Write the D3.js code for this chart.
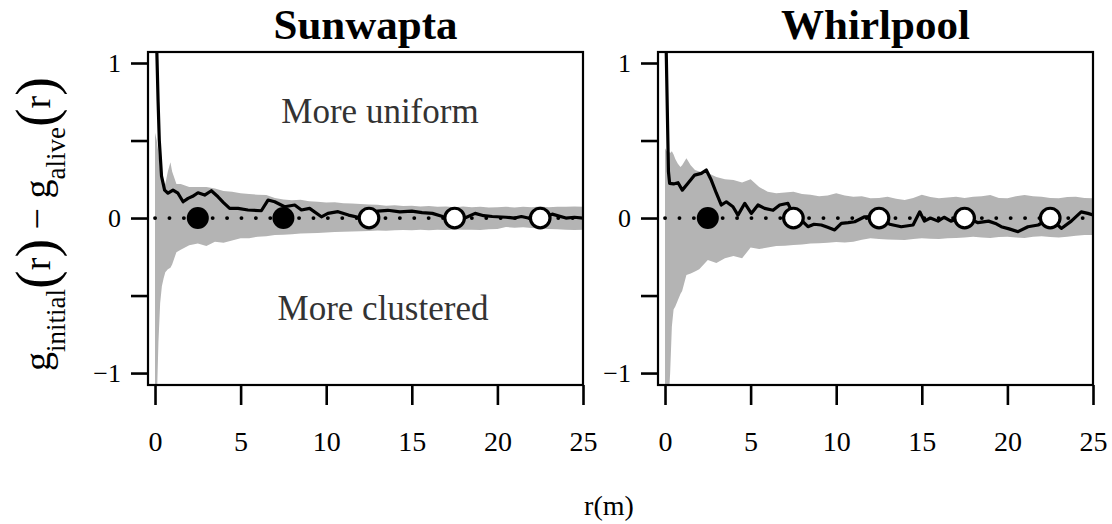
<!DOCTYPE html>
<html>
<head>
<meta charset="utf-8">
<script src="https://cdn.jsdelivr.net/npm/d3@7"></script>
<style>
  body { margin: 0; background: #fff; }
  svg text { font-family: "Liberation Serif", "Times New Roman", serif; fill: #000; }
</style>
</head>
<body>
<div id="chart"></div>
<script>
// panel names and axis ticks
const panelNames = ["Sunwapta", "Whirlpool"]
const xTicks = [0, 5, 10, 15, 20, 25]
const yTicks = [-1, -0.5, 0, 0.5, 1]
const yTickLabels = ["\u22121", "", "0", "", "1"]

// grid used for the simulation envelope (grey band)
const bandR = [0, 0.1, 0.2, 0.3, 0.4, 0.5, 0.6, 0.75, 0.9, 1, 1.25, 1.5, 1.75, 2,
  2.5, 3, 3.5, 4, 4.5, 5, 5.5, 6, 6.5, 7, 7.5, 8, 8.5, 9, 9.5, 10, 10.5, 11, 11.5, 12,
  12.5, 13, 13.5, 14, 14.5, 15, 15.5, 16, 16.5, 17, 17.5, 18, 18.5, 19, 19.5, 20,
  20.5, 21, 21.5, 22, 22.5, 23, 23.5, 24, 24.5, 25]

const sunUpper = [0.55, 0.5, 0.42, 0.3, 0.24, 0.23, 0.22, 0.3, 0.36, 0.3, 0.22, 0.22, 0.21, 0.2,
  0.2, 0.2, 0.19, 0.175, 0.17, 0.16, 0.155, 0.15, 0.148, 0.13, 0.12, 0.115, 0.118, 0.108, 0.105, 0.1,
  0.102, 0.095, 0.093, 0.09, 0.088, 0.085, 0.08, 0.083, 0.078, 0.08, 0.075, 0.078, 0.072, 0.075, 0.07,
  0.074, 0.07, 0.072, 0.068, 0.07, 0.073, 0.068, 0.072, 0.07, 0.074, 0.07, 0.073, 0.072, 0.075, 0.072]
const sunLower = [-1.3, -1.2, -0.8, -0.55, -0.44, -0.39, -0.35, -0.33, -0.32, -0.3, -0.22, -0.205, -0.19, -0.175,
  -0.165, -0.18, -0.153, -0.16, -0.145, -0.131, -0.13, -0.12, -0.118, -0.11, -0.108, -0.105, -0.1, -0.098, -0.097, -0.093,
  -0.09, -0.088, -0.087, -0.085, -0.083, -0.08, -0.082, -0.078, -0.077, -0.079, -0.076, -0.078, -0.075, -0.077, -0.074,
  -0.076, -0.075, -0.077, -0.072, -0.07, -0.058, -0.062, -0.06, -0.065, -0.068, -0.07, -0.072, -0.075, -0.077, -0.075]

const whiUpper = [0.45, 0.43, 0.43, 0.42, 0.43, 0.41, 0.38, 0.35, 0.33, 0.34, 0.385, 0.34, 0.31, 0.3,
  0.29, 0.265, 0.25, 0.245, 0.23, 0.25, 0.2, 0.17, 0.16, 0.165, 0.17, 0.155, 0.15, 0.14, 0.145, 0.16,
  0.145, 0.137, 0.14, 0.127, 0.13, 0.137, 0.125, 0.116, 0.13, 0.15, 0.135, 0.127, 0.133, 0.137, 0.13,
  0.137, 0.14, 0.148, 0.13, 0.127, 0.14, 0.148, 0.14, 0.137, 0.13, 0.127, 0.135, 0.137, 0.13, 0.127]
const whiLower = [-1.3, -1.3, -1.2, -1.0, -0.7, -0.59, -0.57, -0.53, -0.49, -0.47, -0.368, -0.357, -0.345, -0.33,
  -0.27, -0.29, -0.26, -0.245, -0.26, -0.19, -0.2, -0.19, -0.18, -0.178, -0.174, -0.17, -0.165, -0.163, -0.16, -0.155,
  -0.158, -0.153, -0.14, -0.131, -0.135, -0.138, -0.14, -0.142, -0.135, -0.131, -0.133, -0.135, -0.13, -0.128, -0.125,
  -0.12, -0.125, -0.128, -0.122, -0.12, -0.125, -0.128, -0.12, -0.118, -0.122, -0.125, -0.12, -0.115, -0.11, -0.11]

// observed g_initial - g_alive
const sunLineR = [0, 0.1, 0.18, 0.25, 0.38, 0.56, 0.76, 1.05, 1.34, 1.64, 1.93, 2.2, 2.51, 2.9, 3.29, 3.68, 4.0,
  4.36, 4.85, 5.43, 6.21, 6.6, 6.99, 7.57, 8.16, 8.55, 9.03, 9.72, 10.1, 10.69, 11.3, 12.05, 12.5, 13.0, 13.6,
  14.3, 15.0, 15.6, 16.2, 16.8, 17.5, 18.1, 18.7, 19.2, 19.7, 20.5, 21.0, 21.4, 22.0, 22.5, 23.2, 24.0, 24.5, 25]
const sunLineG = [1.5, 1.1, 0.75, 0.5, 0.27, 0.18, 0.16, 0.18, 0.16, 0.105, 0.127, 0.14, 0.163, 0.148, 0.176, 0.137, 0.1,
  0.062, 0.062, 0.052, 0.047, 0.116, 0.105, 0.073, 0.084, 0.052, 0.062, 0.008, 0.03, 0.041, 0.019, 0.0, 0.0, 0.045, 0.05,
  0.04, 0.045, 0.035, 0.03, 0.01, 0.0, 0.0, 0.03, 0.015, 0.01, 0.005, 0.0, 0.01, -0.005, 0.0, 0.025, 0.0, 0.005, 0.0]

const whiLineR = [0, 0.1, 0.2, 0.27, 0.5, 0.76, 1.01, 1.34, 1.73, 2.12, 2.41, 2.7, 3.0, 3.29, 3.58, 3.97, 4.26, 4.66,
  5.04, 5.43, 5.82, 6.31, 6.7, 7.18, 7.5, 7.96, 8.35, 8.7, 9.13, 9.5, 9.91, 10.3, 10.7, 11.08, 11.66, 12.1, 12.5,
  13.12, 13.8, 14.49, 14.88, 15.15, 15.5, 15.95, 16.3, 16.7, 17.1, 17.5, 17.9, 18.28, 18.9, 19.3, 19.64, 20.1,
  20.62, 21.2, 21.8, 22.2, 22.5, 23.15, 23.73, 24.31, 24.7, 25]
const whiLineG = [1.5, 0.9, 0.3, 0.224, 0.22, 0.228, 0.18, 0.224, 0.277, 0.288, 0.31, 0.245, 0.16, 0.084, 0.105, 0.073,
  0.019, 0.095, 0.03, 0.084, 0.062, 0.05, 0.084, 0.095, 0.02, -0.013, -0.056, -0.04, -0.045, -0.06, -0.077, -0.034,
  -0.03, -0.024, 0.008, 0.01, 0.0, -0.04, -0.056, -0.045, 0.04, -0.02, 0.0, -0.02, 0.005, -0.02, -0.005, 0.0, -0.01,
  -0.03, -0.02, -0.035, -0.056, -0.07, -0.088, -0.056, -0.045, -0.02, 0.0, -0.067, -0.02, 0.04, 0.03, 0.02]

// distance-class markers (filled = significant)
const markerR = [2.5, 7.5, 12.5, 17.5, 22.5]
const sunSignif = [1, 1, 0, 0, 0]
const whiSignif = [1, 0, 0, 0, 0]

const width = 1112
const height = 524
const plotW = 435
const plotTop = 52
const plotBottom = 385
const panelLeft = [148, 658]

const svg = d3.select("#chart")
  .append("svg")
    .attr("width", width)
    .attr("height", height)

var y = d3.scaleLinear()
  .domain([-1.077, 1.071])
  .range([plotBottom, plotTop])

const panelData = [
  { upper: sunUpper, lower: sunLower, lineR: sunLineR, lineG: sunLineG, signif: sunSignif },
  { upper: whiUpper, lower: whiLower, lineR: whiLineR, lineG: whiLineG, signif: whiSignif }
]

panelNames.forEach((name, p) => {
  const d = panelData[p]
  const left = panelLeft[p]
  const x = d3.scaleLinear()
    .domain([-0.41, 25])
    .range([left, left + plotW])

  const clipId = "clip" + p
  svg.append("clipPath").attr("id", clipId)
    .append("rect")
      .attr("x", left).attr("y", plotTop)
      .attr("width", plotW).attr("height", plotBottom - plotTop)

  const g = svg.append("g").attr("clip-path", "url(#" + clipId + ")")

  // grey envelope
  const area = d3.area()
    .x((v, i) => x(bandR[i]))
    .y0((v, i) => y(d.lower[i]))
    .y1((v, i) => y(d.upper[i]))
  g.append("path")
    .datum(bandR)
    .attr("d", area)
    .attr("fill", "#b4b4b4")

  // dotted zero reference
  g.append("line")
    .attr("x1", x(0)).attr("x2", x(25))
    .attr("y1", y(0)).attr("y2", y(0))
    .attr("stroke", "#000")
    .attr("stroke-width", 3.8)
    .attr("stroke-linecap", "round")
    .attr("stroke-dasharray", "0.1,14.3")

  // observed curve
  const line = d3.line()
    .x((v, i) => x(d.lineR[i]))
    .y(v => y(v))
  g.append("path")
    .datum(d.lineG)
    .attr("d", line)
    .attr("fill", "none")
    .attr("stroke", "#000")
    .attr("stroke-width", 3.2)
    .attr("stroke-linejoin", "round")

  // markers
  svg.append("g").selectAll("circle")
    .data(markerR)
    .enter()
    .append("circle")
      .attr("cx", r => x(r))
      .attr("cy", y(0))
      .attr("r", (r, i) => d.signif[i] ? 11 : 9.8)
      .attr("fill", (r, i) => d.signif[i] ? "#000" : "#fff")
      .attr("stroke", "#000")
      .attr("stroke-width", (r, i) => d.signif[i] ? 0 : 3.2)

  // frame
  svg.append("rect")
    .attr("x", left).attr("y", plotTop)
    .attr("width", plotW).attr("height", plotBottom - plotTop)
    .attr("fill", "none")
    .attr("stroke", "#000")
    .attr("stroke-width", 2.2)

  // axes
  const yAxis = svg.append("g")
    .attr("transform", "translate(" + left + ",0)")
    .call(d3.axisLeft(y).tickValues(yTicks)
      .tickFormat((t, i) => yTickLabels[i])
      .tickSize(17).tickPadding(10))
  yAxis.select(".domain").remove()
  yAxis.selectAll(".tick line").attr("stroke-width", 2.6)
  yAxis.selectAll(".tick text")
    .attr("font-size", 26)
    .attr("font-family", "Liberation Serif")

  const xAxis = svg.append("g")
    .attr("transform", "translate(0," + plotBottom + ")")
    .call(d3.axisBottom(x).tickValues(xTicks)
      .tickSize(20).tickPadding(26))
  xAxis.select(".domain").remove()
  xAxis.selectAll(".tick line").attr("stroke-width", 2.6)
  xAxis.selectAll(".tick text")
    .attr("font-size", 28)
    .attr("font-family", "Liberation Serif")

  // title
  svg.append("text")
    .attr("x", left + plotW / 2)
    .attr("y", 39)
    .attr("text-anchor", "middle")
    .attr("font-size", 43)
    .attr("font-weight", "bold")
    .text(name)
})

// region annotations on the first panel
svg.append("text")
  .attr("x", 380).attr("y", 123)
  .attr("text-anchor", "middle")
  .attr("font-size", 35)
  .style("fill", "#333")
  .text("More uniform")
svg.append("text")
  .attr("x", 383).attr("y", 320)
  .attr("text-anchor", "middle")
  .attr("font-size", 35)
  .style("fill", "#333")
  .text("More clustered")

// shared x label
svg.append("text")
  .attr("x", 609).attr("y", 515)
  .attr("text-anchor", "middle")
  .attr("font-size", 28)
  .text("r(m)")

// y label: g_initial(r) - g_alive(r)
const yl = svg.append("text")
  .attr("transform", "translate(50,224) rotate(-90)")
  .attr("text-anchor", "middle")
const parts = [
  ["g", 38, 0], ["initial", 27, 15], ["(", 56, -10], ["r", 38, -5], [")", 56, 5],
  [" \u2212 g", 38, -5], ["alive", 27, 15], ["(", 56, -10], ["r", 38, -5], [")", 56, 5]
]
parts.forEach(pt => {
  yl.append("tspan")
    .attr("font-size", pt[1])
    .attr("dy", pt[2])
    .text(pt[0])
})
</script>
</body>
</html>
